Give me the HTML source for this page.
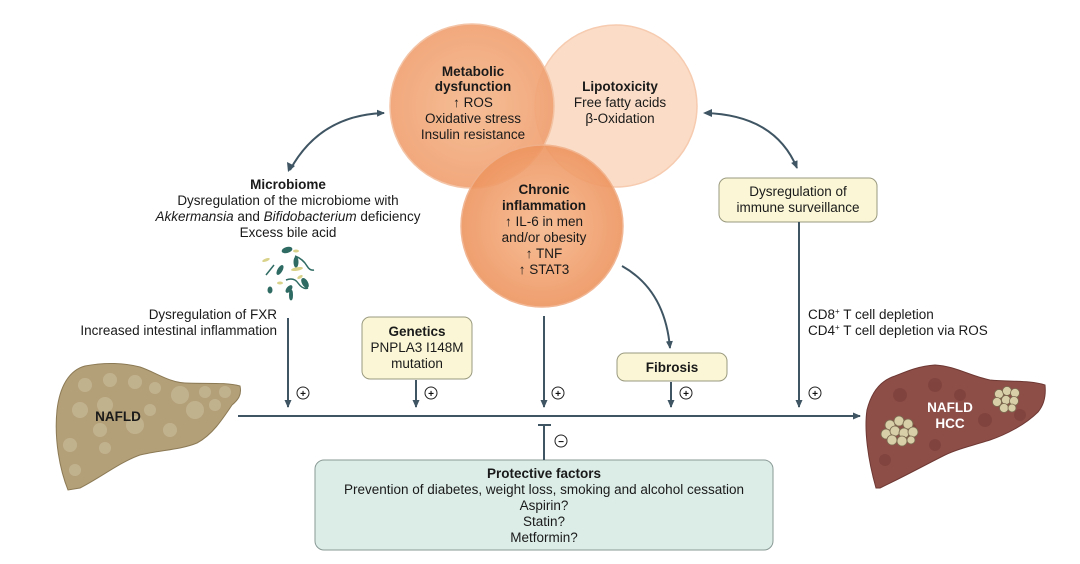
<!DOCTYPE html>
<html><head><meta charset="utf-8"><style>
html,body{margin:0;padding:0;background:#fff;}
svg{display:block;font-family:"Liberation Sans",sans-serif;}
</style></head><body>
<svg width="1080" height="564" viewBox="0 0 1080 564" xmlns="http://www.w3.org/2000/svg">
<defs>
<marker id="ah" markerWidth="8" markerHeight="8" refX="7" refY="4" orient="auto" markerUnits="userSpaceOnUse">
<path d="M0,0.5 L8,4 L0,7.5 Z" fill="#3f5563"/></marker>
<radialGradient id="g1" cx="50%" cy="50%" r="50%"><stop offset="0" stop-color="#f6b98e"/><stop offset="1" stop-color="#f0a172"/></radialGradient>
<radialGradient id="g3" cx="50%" cy="50%" r="50%"><stop offset="0" stop-color="#f6b88c"/><stop offset="1" stop-color="#ee9560"/></radialGradient>
</defs>
<circle cx="616" cy="106" r="81" fill="#fbdcc6" stroke="#f6cbb0" stroke-width="1.5"/>
<circle cx="472" cy="106" r="82" fill="url(#g1)" opacity="0.92" stroke="#f3c0a0" stroke-width="1.5"/>
<circle cx="542" cy="226" r="81" fill="url(#g3)" opacity="0.9" stroke="#f0b08a" stroke-width="1.5"/>
<g font-size="13.5" fill="#1a1a1a" text-anchor="middle">
<text x="473" y="76" font-weight="bold">Metabolic</text>
<text x="473" y="91" font-weight="bold">dysfunction</text>
<text x="473" y="107">↑ ROS</text>
<text x="473" y="123">Oxidative stress</text>
<text x="473" y="139">Insulin resistance</text>
<text x="620" y="91" font-weight="bold">Lipotoxicity</text>
<text x="620" y="107">Free fatty acids</text>
<text x="620" y="123">β-Oxidation</text>
<text x="544" y="194" font-weight="bold">Chronic</text>
<text x="544" y="210" font-weight="bold">inflammation</text>
<text x="544" y="226">↑ IL-6 in men</text>
<text x="544" y="242">and/or obesity</text>
<text x="544" y="258">↑ TNF</text>
<text x="544" y="274">↑ STAT3</text>
<text x="288" y="189" font-weight="bold">Microbiome</text>
<text x="288" y="205">Dysregulation of the microbiome with</text>
<text x="288" y="221"><tspan font-style="italic">Akkermansia</tspan> and <tspan font-style="italic">Bifidobacterium</tspan> deficiency</text>
<text x="288" y="237">Excess bile acid</text>
</g>
<g font-size="13.5" fill="#1a1a1a" text-anchor="end">
<text x="277" y="319">Dysregulation of FXR</text>
<text x="277" y="335">Increased intestinal inflammation</text>
</g>
<g font-size="13.5" fill="#1a1a1a">
<text x="808" y="319">CD8<tspan font-size="8" dy="-5">+</tspan><tspan dy="5"> T cell depletion</tspan></text>
<text x="808" y="335">CD4<tspan font-size="8" dy="-5">+</tspan><tspan dy="5"> T cell depletion via ROS</tspan></text>
</g>
<g fill="#2f6b63" stroke="#2f6b63">
<ellipse cx="287" cy="250" rx="5" ry="2.5" transform="rotate(-15 287 250)"/>
<ellipse cx="280" cy="270" rx="2" ry="5" transform="rotate(30 280 270)"/>
<ellipse cx="305" cy="283" rx="2.5" ry="5" transform="rotate(-30 305 283)"/>
<ellipse cx="270" cy="290" rx="2" ry="3"/>
<ellipse cx="289" cy="289" rx="2" ry="4" transform="rotate(40 289 289)"/>
<ellipse cx="296" cy="262" rx="2" ry="5"/>
<path d="M295,256 q8,3 12,10 q3,5 7,4" fill="none" stroke-width="1.5"/>
<path d="M286,280 q8,-3 12,3 q5,7 10,5" fill="none" stroke-width="1.5"/>
<path d="M266,275 l8,-10" fill="none" stroke-width="1.5"/>
<ellipse cx="291" cy="295" rx="1.5" ry="5"/>
</g>
<g fill="#d9d28a" stroke="none">
<ellipse cx="266" cy="260" rx="4" ry="1.5" transform="rotate(-20 266 260)"/>
<ellipse cx="297" cy="269" rx="6" ry="1.8" transform="rotate(-10 297 269)"/>
<ellipse cx="280" cy="283" rx="3" ry="1.5"/>
<ellipse cx="300" cy="277" rx="3" ry="1.5" transform="rotate(-30 300 277)"/>
<ellipse cx="296" cy="251" rx="3" ry="1.5"/>
</g>
<path d="M290,170 Q320,115 384,113" fill="none" stroke="#3f5563" stroke-width="2" marker-end="url(#ah)"/>
<polygon points="288,172 287,162 295,166" fill="#3f5563"/>
<path d="M705,113 Q775,115 797,168" fill="none" stroke="#3f5563" stroke-width="2" marker-end="url(#ah)"/>
<polygon points="703,113 712,109 712,117" fill="#3f5563"/>
<path d="M622,266 Q665,290 670,348" fill="none" stroke="#3f5563" stroke-width="2" marker-end="url(#ah)"/>
<rect x="719" y="178" width="158" height="44" rx="8" fill="#fbf7d6" stroke="#9a9a80" stroke-width="1"/>
<text x="798" y="196" font-size="13.5" text-anchor="middle" fill="#1a1a1a">Dysregulation of</text>
<text x="798" y="212" font-size="13.5" text-anchor="middle" fill="#1a1a1a">immune surveillance</text>
<rect x="362" y="317" width="110" height="62" rx="8" fill="#fbf7d6" stroke="#9a9a80"/>
<text x="417" y="336" font-size="13.5" font-weight="bold" text-anchor="middle" fill="#1a1a1a">Genetics</text>
<text x="417" y="352" font-size="13.5" text-anchor="middle" fill="#1a1a1a">PNPLA3 I148M</text>
<text x="417" y="368" font-size="13.5" text-anchor="middle" fill="#1a1a1a">mutation</text>
<rect x="617" y="353" width="110" height="28" rx="8" fill="#fbf7d6" stroke="#9a9a80"/>
<text x="672" y="372" font-size="13.5" font-weight="bold" text-anchor="middle" fill="#1a1a1a">Fibrosis</text>
<rect x="315" y="460" width="458" height="90" rx="9" fill="#dcede8" stroke="#8a9a96"/>
<g font-size="13.5" text-anchor="middle" fill="#1a1a1a">
<text x="544" y="478" font-weight="bold">Protective factors</text>
<text x="544" y="494">Prevention of diabetes, weight loss, smoking and alcohol cessation</text>
<text x="544" y="510">Aspirin?</text>
<text x="544" y="526">Statin?</text>
<text x="544" y="542">Metformin?</text>
</g>
<line x1="238" y1="416" x2="860" y2="416" stroke="#3f5563" stroke-width="2" marker-end="url(#ah)"/>
<g stroke="#3f5563" stroke-width="2">
<line x1="288" y1="318" x2="288" y2="407" marker-end="url(#ah)"/>
<line x1="416" y1="380" x2="416" y2="407" marker-end="url(#ah)"/>
<line x1="544" y1="316" x2="544" y2="407" marker-end="url(#ah)"/>
<line x1="671" y1="382" x2="671" y2="407" marker-end="url(#ah)"/>
<line x1="799" y1="222" x2="799" y2="407" marker-end="url(#ah)"/>
<line x1="544" y1="425" x2="544" y2="460"/>
<line x1="538" y1="425" x2="551" y2="425"/>
</g>
<g fill="#fff" stroke="#222" stroke-width="1">
<circle cx="303" cy="393" r="6"/><circle cx="431" cy="393" r="6"/><circle cx="558" cy="393" r="6"/><circle cx="686" cy="393" r="6"/><circle cx="815" cy="393" r="6"/><circle cx="561" cy="441" r="6"/>
</g>
<g font-size="10" font-weight="bold" text-anchor="middle" fill="#111">
<text x="303" y="397">+</text><text x="431" y="397">+</text><text x="558" y="397">+</text><text x="686" y="397">+</text><text x="815" y="397">+</text><text x="561" y="445">−</text>
</g>
<path d="M68,490 C60,470 54,440 57,410 C60,385 70,370 85,366 C105,362 125,363 140,367 C155,372 168,382 185,383 C205,384 225,382 240,386 C242,395 238,400 232,405 C222,420 212,435 197,443 C180,450 160,450 140,455 C120,462 100,478 80,488 Z" fill="#b3a079" stroke="#8c7a55" stroke-width="1"/>
<g fill="#d4c8a8" opacity="0.45">
<circle cx="85" cy="385" r="7"/><circle cx="110" cy="380" r="7"/><circle cx="135" cy="382" r="7"/><circle cx="155" cy="388" r="6"/><circle cx="180" cy="395" r="9"/><circle cx="205" cy="392" r="6"/><circle cx="225" cy="392" r="6"/><circle cx="80" cy="410" r="8"/><circle cx="105" cy="405" r="8"/><circle cx="195" cy="410" r="9"/><circle cx="215" cy="405" r="6"/><circle cx="100" cy="430" r="7"/><circle cx="135" cy="425" r="9"/><circle cx="170" cy="430" r="7"/><circle cx="70" cy="445" r="7"/><circle cx="105" cy="448" r="6"/><circle cx="75" cy="470" r="6"/><circle cx="150" cy="410" r="6"/>
</g>
<text x="118" y="421" font-size="13.5" font-weight="bold" text-anchor="middle" fill="#1a1a1a">NAFLD</text>
<path d="M876,488 C868,460 864,430 867,410 C872,390 882,380 895,376 C910,370 920,366 935,365 C955,366 970,376 990,380 C1010,382 1030,380 1045,385 C1046,395 1044,405 1038,412 C1025,425 1005,435 990,440 C970,446 955,450 945,455 C925,465 905,476 880,488 Z" fill="#8e4e48" stroke="#6e3833" stroke-width="1"/>
<g fill="#7a3d38" opacity="0.6">
<circle cx="900" cy="395" r="7"/><circle cx="935" cy="385" r="7"/><circle cx="960" cy="395" r="6"/><circle cx="910" cy="430" r="7"/><circle cx="985" cy="420" r="7"/><circle cx="1020" cy="415" r="6"/><circle cx="935" cy="445" r="6"/><circle cx="885" cy="460" r="6"/>
</g>
<g fill="#d8cfa8" stroke="#7a6a50" stroke-width="0.8">
<circle cx="890" cy="425" r="5"/><circle cx="899" cy="421" r="5"/><circle cx="908" cy="424" r="5"/><circle cx="886" cy="434" r="5"/><circle cx="895" cy="431" r="5"/><circle cx="904" cy="433" r="5"/><circle cx="913" cy="432" r="5"/><circle cx="892" cy="440" r="5"/><circle cx="902" cy="441" r="5"/><circle cx="911" cy="440" r="4"/>
<circle cx="999" cy="394" r="4.5"/><circle cx="1007" cy="391" r="4.5"/><circle cx="1015" cy="393" r="4.5"/><circle cx="997" cy="402" r="4.5"/><circle cx="1006" cy="400" r="4.5"/><circle cx="1014" cy="401" r="4.5"/><circle cx="1004" cy="408" r="4.5"/><circle cx="1012" cy="408" r="4"/>
</g>
<text x="950" y="412" font-size="13.5" font-weight="bold" text-anchor="middle" fill="#fff">NAFLD</text>
<text x="950" y="428" font-size="13.5" font-weight="bold" text-anchor="middle" fill="#fff">HCC</text>
</svg>
</body></html>
